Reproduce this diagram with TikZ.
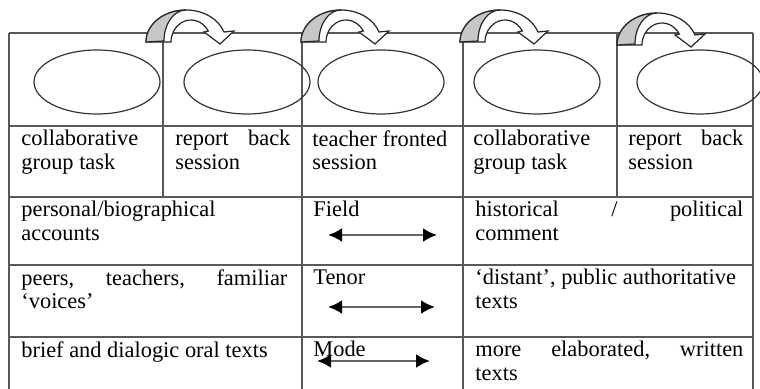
\documentclass[tikz,border=0pt]{standalone}
\usepackage{fontspec}
\setmainfont{Liberation Serif}
\usepackage{tikz}
\usetikzlibrary{shapes.geometric}
\usetikzlibrary{arrows.meta}

\tikzset{
  rule/.style={draw=black!65, line width=0.6pt},
  bubble/.style={draw=black!80, line width=0.6pt, ellipse, inner sep=0pt, minimum width=63pt, minimum height=32pt},
  celltext/.style={anchor=north west, inner sep=0pt, align=left, text=black, font=\fontsize{11.2}{11.8}\selectfont},
  curlarrow/.style={draw=black!85, line width=0.6pt, fill=white},
  backleg/.style={draw=black!85, line width=0.6pt, fill=black!22},
  dbl/.style={draw=black!60, line width=1.3pt, {Latex[length=7pt,width=7pt,black]}-{Latex[length=7pt,width=7pt,black]}}
}

\begin{document}
\begin{tikzpicture}[x=0.5pt,y=-0.5pt]
\useasboundingbox (0,0) rectangle (760,389);

\draw[rule] (9,33) -- (753,33);
\draw[rule] (9,126) -- (753,126);
\draw[rule] (9,197) -- (753,197);
\draw[rule] (9,265) -- (753,265);
\draw[rule] (9,337) -- (753,337);

\draw[rule] (9,33) -- (9,389);
\draw[rule] (163,33) -- (163,197);
\draw[rule] (302,33) -- (302,389);
\draw[rule] (463,33) -- (463,389);
\draw[rule] (617,33) -- (617,197);
\draw[rule] (753,33) -- (753,389);

\node[bubble] (task1) at (97,82) {};
\node[bubble] (back1) at (247,82) {};
\node[bubble] (front) at (381,82) {};
\node[bubble] (task2) at (537,82) {};
\node[bubble] (back2) at (700,82) {};

\begin{scope}[shift={(146,0)}]
\draw[curlarrow] (0,42) arc[start angle=180,end angle=341.8,x radius=40,y radius=32] -- (88,31) -- (74,44) -- (58,32) -- (62.3,31) arc[start angle=330,end angle=180,x radius=20,y radius=22] -- cycle;
\draw[backleg] (0,42) arc[start angle=180,end angle=270,x radius=40,y radius=32] arc[start angle=270,end angle=180,x radius=22,y radius=31] -- cycle;
\end{scope}
\begin{scope}[shift={(301,0)}]
\draw[curlarrow] (0,42) arc[start angle=180,end angle=341.8,x radius=40,y radius=32] -- (88,31) -- (74,44) -- (58,32) -- (62.3,31) arc[start angle=330,end angle=180,x radius=20,y radius=22] -- cycle;
\draw[backleg] (0,42) arc[start angle=180,end angle=270,x radius=40,y radius=32] arc[start angle=270,end angle=180,x radius=22,y radius=31] -- cycle;
\end{scope}
\begin{scope}[shift={(460,0)}]
\draw[curlarrow] (0,42) arc[start angle=180,end angle=341.8,x radius=40,y radius=32] -- (88,31) -- (74,44) -- (58,32) -- (62.3,31) arc[start angle=330,end angle=180,x radius=20,y radius=22] -- cycle;
\draw[backleg] (0,42) arc[start angle=180,end angle=270,x radius=40,y radius=32] arc[start angle=270,end angle=180,x radius=22,y radius=31] -- cycle;
\end{scope}
\begin{scope}[shift={(617,3)}]
\draw[curlarrow] (0,42) arc[start angle=180,end angle=341.8,x radius=40,y radius=32] -- (88,31) -- (74,44) -- (58,32) -- (62.3,31) arc[start angle=330,end angle=180,x radius=20,y radius=22] -- cycle;
\draw[backleg] (0,42) arc[start angle=180,end angle=270,x radius=40,y radius=32] arc[start angle=270,end angle=180,x radius=22,y radius=31] -- cycle;
\end{scope}

\node[celltext] (grouptaskA) at (21,130) {collaborative\\group task};
\node[celltext, text width=57.5pt] (reportA) at (175,130) {report\hfill back\\session};
\node[celltext] (teacher) at (312,130) {teacher fronted\\session};
\node[celltext] (grouptaskB) at (473,130) {collaborative\\group task};
\node[celltext, text width=57.5pt] (reportB) at (628,130) {report\hfill back\\session};

\node[celltext] (personal) at (21,201) {personal/biographical\\accounts};
\node[celltext] (field) at (313,201) {Field};
\node[celltext, text width=134pt] (historical) at (475,201) {historical\hfill/\hfill political\\comment};

\node[celltext, text width=133pt] (peers) at (21,269) {peers,\hfill teachers,\hfill familiar\\‘voices’};
\node[celltext] (tenor) at (313,269) {Tenor};
\node[celltext] (distant) at (475,269) {‘distant’, public authoritative\\texts};

\node[celltext] (brief) at (21,341) {brief and dialogic oral texts};
\node[celltext] (mode) at (313,341) {Mode};
\node[celltext, text width=134pt] (elaborated) at (475,341) {more\hfill elaborated,\hfill written\\texts};

\coordinate (fieldL) at (328,235);
\coordinate (fieldR) at (437,235);
\coordinate (tenorL) at (328,307);
\coordinate (tenorR) at (435,307);
\coordinate (modeL) at (317,361);
\coordinate (modeR) at (430,361);

\draw[dbl] (fieldL) -- (fieldR);
\draw[dbl] (tenorL) -- (tenorR);
\draw[dbl] (modeL) -- (modeR);
\end{tikzpicture}
\end{document}
